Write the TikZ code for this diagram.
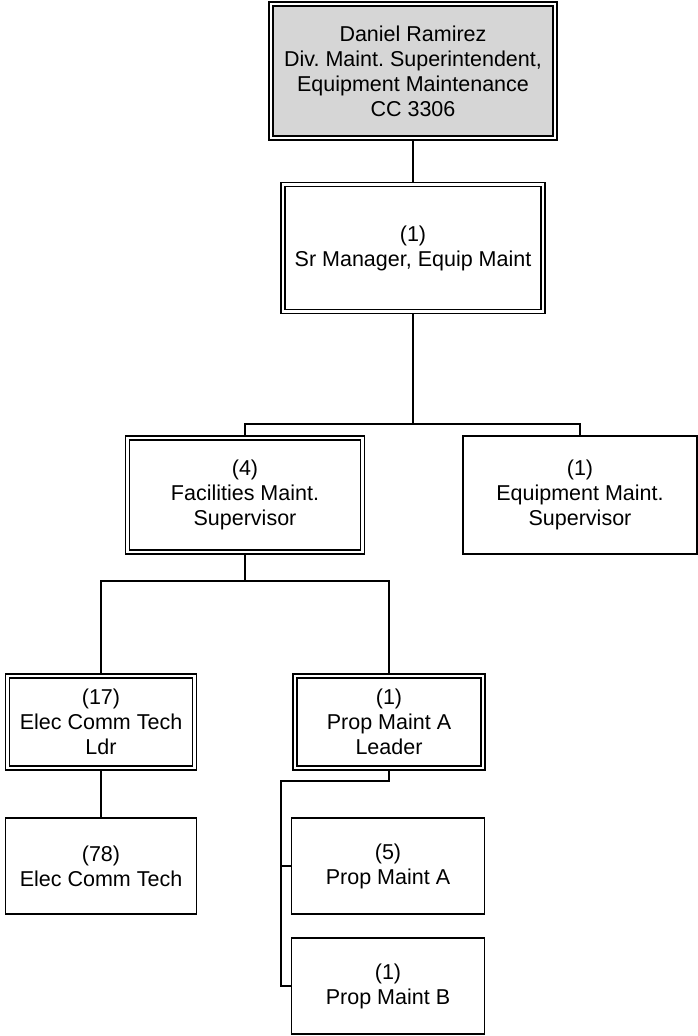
\documentclass[tikz,border=0pt]{standalone}
\usepackage{fontspec}
\setmainfont{Liberation Sans}
\usepackage{tikz}
\usetikzlibrary{positioning,backgrounds}
\definecolor{chiefgray}{HTML}{D6D6D6}
\frenchspacing
\tikzset{
  unitbox/.style={draw, line width=1.8pt, fill=white, align=center,
    inner sep=0pt, outer sep=0pt, font=\fontsize{21.5}{25}\selectfont},
  leadbox/.style={unitbox, line width=1.7pt, double=white, double distance=2.4pt},
  link/.style={line width=1.8pt}
}

\begin{document}
\begin{tikzpicture}[x=1pt, y=-1pt]
  \useasboundingbox (0,0) rectangle (698,1036);

  %% Head of division
  \node[leadbox, fill=chiefgray, minimum width=284pt, minimum height=134pt]
    (chief) at (413,71) {Daniel Ramirez\\Div. Maint. Superintendent,\\Equipment Maintenance\\CC 3306};

  %% Second level
  \node[leadbox, minimum width=260pt, minimum height=127pt]
    (srmgr) at (413,248) {(1)\\Sr Manager, Equip Maint};

  %% Supervisors
  \node[leadbox, minimum width=235pt, minimum height=114pt]
    (facsup) at (245,495) {(4)\\Facilities Maint.\\Supervisor};
  \node[unitbox, minimum width=234pt, minimum height=118pt]
    (eqsup) at (580,495) {(1)\\Equipment Maint.\\Supervisor};

  %% Leaders
  \node[leadbox, minimum width=187pt, minimum height=92pt]
    (ecldr) at (101,722) {(17)\\Elec Comm Tech\\Ldr};
  \node[leadbox, minimum width=188pt, minimum height=92pt]
    (pmldr) at (389,722) {(1)\\Prop Maint A\\Leader};

  %% Staff
  \node[unitbox, minimum width=191pt, minimum height=96pt]
    (ectech) at (101,866) {(78)\\Elec Comm Tech};
  \node[unitbox, minimum width=193pt, minimum height=96pt]
    (pma) at (388,866) {(5)\\Prop Maint A};
  \node[unitbox, minimum width=193pt, minimum height=96pt]
    (pmb) at (388,986) {(1)\\Prop Maint B};

  %% Reporting lines
  \coordinate (bus1) at (413,424);
  \coordinate (bus2) at (245,581);
  \coordinate (rail) at (281,781);
  \begin{scope}[on background layer]
    \draw[link] (chief) -- (srmgr);
    \draw[link] (srmgr) -- (bus1);
    \draw[link] (facsup.north) |- (bus1) -| (eqsup.north);
    \draw[link] (facsup) -- (bus2);
    \draw[link] (ecldr.north) |- (bus2) -| (pmldr.north);
    \draw[link] (ecldr) -- (ectech);
    \draw[link] (pmldr.south) |- (rail) |- (pmb.west);
    \draw[link] (rail |- pma.west) -- (pma.west);
  \end{scope}
\end{tikzpicture}
\end{document}
